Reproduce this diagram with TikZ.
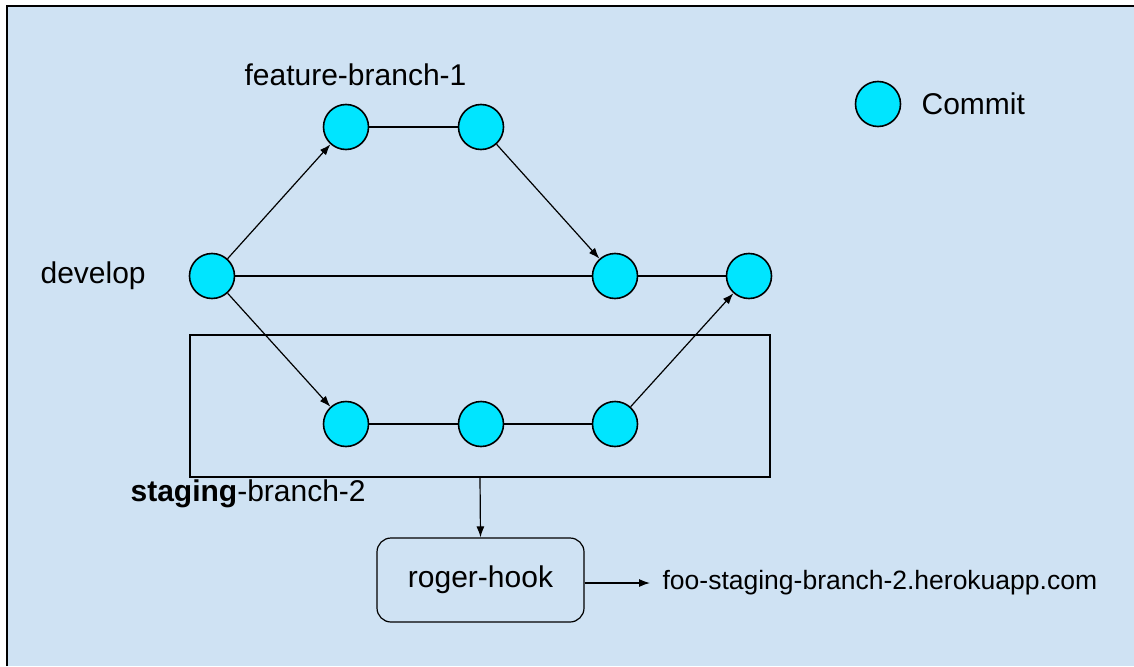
\documentclass[tikz,border=0pt]{standalone}
\usepackage{fontspec}
\setmainfont{Liberation Sans}
\usetikzlibrary{arrows.meta}

\definecolor{paneblue}{HTML}{CFE2F3}
\definecolor{commitcyan}{HTML}{00E5FF}

\begin{document}
\begin{tikzpicture}[x=1pt, y=-1pt, line width=1.2pt,
        >={Latex[length=11pt,width=8pt]},
        font=\fontsize{30}{36}\selectfont]
      \tikzstyle{commit} = [circle, draw, fill=commitcyan, line width=1.6pt,
                            minimum size=45pt, inner sep=0pt]
      \tikzstyle{label} = [inner sep=0pt, anchor=west]
      \useasboundingbox (0,0) rectangle (1134,666);
      \fill[paneblue] (7,6) rectangle (1134,666);
      \draw[line width=2.4pt] (7,666) -- (7,6) -- (1134,6);

      \node (develop1) [commit] at (212,276) {};
      \node (develop2) [commit] at (615,276) {};
      \node (develop3) [commit] at (749,276) {};
      \node (feature1) [commit] at (346,127) {};
      \node (feature2) [commit] at (481,127) {};
      \node (staging1) [commit] at (346,424) {};
      \node (staging2) [commit] at (481,424) {};
      \node (staging3) [commit] at (615,424) {};

      \node (legend) [commit] at (878,104) {};
      \node (legendtext) [label] at (921,104) {Commit};

      \node (developlbl) [label] at (40,276) {develop};
      \node (featurelbl) [label] at (244,75) {feature-branch-1};
      \node (staginglbl) [label] at (130,494) {\textbf{staging}-branch-2};

      \node (stagebox) [draw, minimum width=580pt, minimum height=142pt] at (480,406) {};
      \node (roger) [draw, rounded corners=14pt, minimum width=207pt,
                     minimum height=84pt] at (480.5,580) {roger-hook};
      \node (url) [label, inner xsep=12pt, font=\fontsize{26.5}{32}\selectfont]
            at (650,583) {foo-staging-branch-2.herokuapp.com};

      \draw (develop1) -- (develop2);
      \draw (develop2) -- (develop3);
      \draw (feature1) -- (feature2);
      \draw (staging1) -- (staging2);
      \draw (staging2) -- (staging3);
      \draw[->] (develop1) -- (feature1);
      \draw[->] (feature2) -- (develop2);
      \draw[->] (develop1) -- (staging1);
      \draw[->] (staging3) -- (develop3);
      \draw[->] (stagebox.south) -- (roger.north);
      \draw[->] (roger.east |- url.west) -- (url.west);
    \end{tikzpicture}
\end{document}
